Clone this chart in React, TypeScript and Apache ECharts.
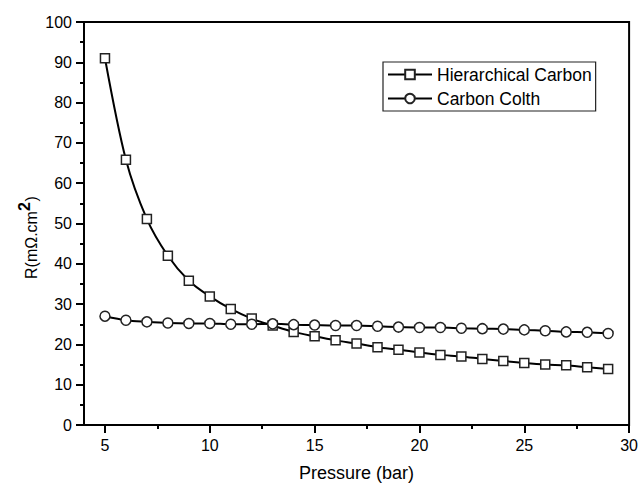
import React, { useEffect, useRef } from "react";
import * as echarts from "echarts";

const pressures = [5, 6, 7, 8, 9, 10, 11, 12, 13, 14, 15, 16, 17, 18, 19, 20, 21, 22, 23, 24, 25, 26, 27, 28, 29];
const hierarchicalCarbon = [91.0, 65.8, 51.1, 42.0, 35.8, 31.9, 28.8, 26.4, 24.7, 23.1, 22.0, 21.0, 20.2, 19.3, 18.7, 18.0, 17.4, 17.0, 16.4, 15.9, 15.4, 15.0, 14.8, 14.3, 13.9];
const carbonColth = [27.0, 26.0, 25.6, 25.3, 25.2, 25.2, 25.0, 25.0, 25.1, 24.9, 24.8, 24.7, 24.7, 24.5, 24.3, 24.2, 24.2, 24.0, 23.9, 23.8, 23.6, 23.4, 23.1, 23.0, 22.7];
const xMajorTicks = [5, 10, 15, 20, 25, 30];
const xMinorTicks = [7.5, 12.5, 17.5, 22.5, 27.5];

const FONT = "'Liberation Sans', Arial, Helvetica, sans-serif";

export default function App() {
  const ref = useRef<HTMLDivElement>(null);
  useEffect(() => {
    if (!ref.current) return;
    const chart = echarts.init(ref.current, null, { renderer: "svg" });
    const axisLine = { show: true, lineStyle: { color: "#000", width: 2 } };
    const yTitleFont = 16;
    chart.setOption({
      animation: false,
      backgroundColor: "#fff",
      textStyle: { fontFamily: FONT, color: "#000" },
      grid: {
        left: 84,
        right: 10,
        top: 22,
        bottom: 58,
        show: true,
        borderColor: "#000",
        borderWidth: 2,
        backgroundColor: "transparent",
      },
      legend: {
        orient: "vertical",
        left: 383,
        top: 62,
        padding: [3, 4, 3, 4],
        itemWidth: 44,
        itemHeight: 12,
        itemGap: 5,
        borderColor: "#222",
        borderWidth: 1.2,
        backgroundColor: "#fff",
        textStyle: { fontFamily: FONT, fontSize: 17.5, color: "#000", lineHeight: 19 },
        data: ["Hierarchical Carbon", "Carbon Colth"],
      },
      xAxis: [
        {
          type: "value",
          min: 4,
          max: 30,
          position: "bottom",
          name: "Pressure (bar)",
          nameLocation: "middle",
          nameGap: 39,
          nameTextStyle: { fontFamily: FONT, fontSize: 18, color: "#000" },
          axisLine,
          axisTick: { show: true, customValues: xMajorTicks, length: 8, lineStyle: { color: "#000", width: 2 } },
          axisLabel: { show: true, customValues: xMajorTicks, margin: 12, fontSize: 16, color: "#000", fontFamily: FONT },
          splitLine: { show: false },
        },
        {
          type: "value",
          min: 4,
          max: 30,
          position: "bottom",
          offset: 0,
          axisLine: { show: false },
          axisTick: { show: true, customValues: xMinorTicks, length: 4, lineStyle: { color: "#000", width: 2 } },
          axisLabel: { show: false },
          splitLine: { show: false },
        },
      ],
      yAxis: {
        type: "value",
        min: 0,
        max: 100,
        interval: 10,
        axisLine,
        axisTick: { show: true, length: 8, lineStyle: { color: "#000", width: 2 } },
        minorTick: { show: true, splitNumber: 2, length: 4, lineStyle: { color: "#000", width: 2 } },
        axisLabel: { margin: 12, fontSize: 16, color: "#000", fontFamily: FONT },
        splitLine: { show: false },
        minorSplitLine: { show: false },
      },
      graphic: [
        {
          type: "group",
          x: 31,
          y: 238,
          rotation: Math.PI / 2,
          children: [
            {
              type: "text",
              x: -41,
              y: 0,
              style: {
                text: "R(mΩ.cm",
                fontFamily: FONT,
                fontSize: yTitleFont,
                fill: "#000",
                align: "left",
                verticalAlign: "middle",
              },
            },
            {
              type: "text",
              x: 27,
              y: -7,
              style: {
                text: "2",
                fontFamily: FONT,
                fontSize: yTitleFont,
                fontWeight: "bold",
                fill: "#000",
                align: "left",
                verticalAlign: "middle",
              },
            },
            {
              type: "text",
              x: 36.5,
              y: 0,
              style: {
                text: ")",
                fontFamily: FONT,
                fontSize: yTitleFont,
                fill: "#000",
                align: "left",
                verticalAlign: "middle",
              },
            },
          ],
        },
      ],
      series: [
        {
          name: "Hierarchical Carbon",
          type: "line",
          xAxisIndex: 0,
          data: pressures.map((p, i) => [p, hierarchicalCarbon[i]]),
          smooth: 0.3,
          symbol: "rect",
          symbolSize: 9,
          showAllSymbol: true,
          lineStyle: { color: "#000", width: 2 },
          itemStyle: { color: "#fff", borderColor: "#222", borderWidth: 1.5 },
          z: 3,
        },
        {
          name: "Carbon Colth",
          type: "line",
          xAxisIndex: 0,
          data: pressures.map((p, i) => [p, carbonColth[i]]),
          smooth: 0.3,
          symbol: "circle",
          symbolSize: 10,
          showAllSymbol: true,
          lineStyle: { color: "#000", width: 2 },
          itemStyle: { color: "#fff", borderColor: "#222", borderWidth: 1.5 },
          z: 4,
        },
      ],
    });
    return () => chart.dispose();
  }, []);
  return <div ref={ref} style={{ width: 641, height: 487, position: "absolute", left: 0, top: 0 }} />;
}
